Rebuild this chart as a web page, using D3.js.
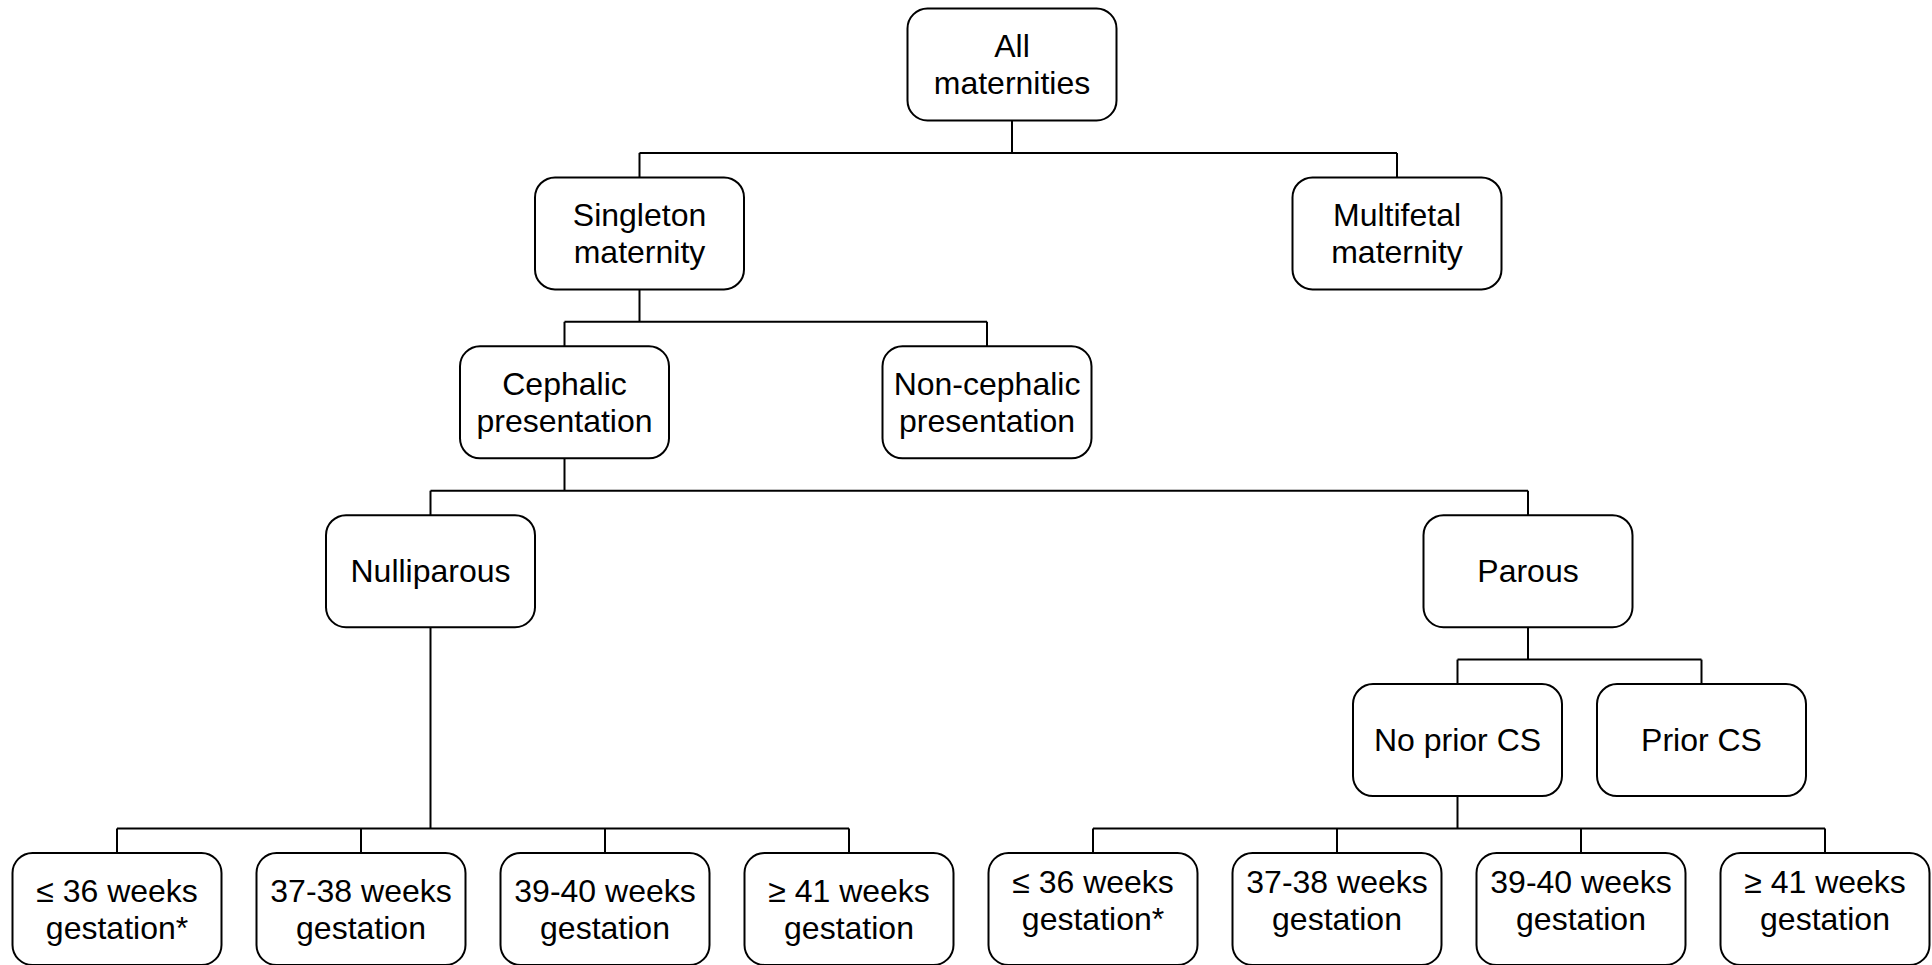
<!DOCTYPE html>
<html>
<head>
<meta charset="utf-8">
<script src="https://cdn.jsdelivr.net/npm/d3@7"></script>
<style>
  html, body { margin: 0; padding: 0; background: #fff; }
  svg { display: block; }
</style>
</head>
<body>
<svg id="chart" width="1932" height="965"></svg>
<script>
// ---- data ----
const nodeIds = ["all","singleton","multifetal","cephalic","noncephalic","nulli","parous","noprior","prior",
  "n36","n3738","n3940","n41","p36","p3738","p3940","p41"];
const nodeLabels = [
  ["All","maternities"],
  ["Singleton","maternity"],
  ["Multifetal","maternity"],
  ["Cephalic","presentation"],
  ["Non-cephalic","presentation"],
  ["Nulliparous"],
  ["Parous"],
  ["No prior CS"],
  ["Prior CS"],
  ["\u2264 36 weeks","gestation*"],
  ["37-38 weeks","gestation"],
  ["39-40 weeks","gestation"],
  ["\u2265 41 weeks","gestation"],
  ["\u2264 36 weeks","gestation*"],
  ["37-38 weeks","gestation"],
  ["39-40 weeks","gestation"],
  ["\u2265 41 weeks","gestation"]
];
const nodeParents = ["", "all","all","singleton","singleton","cephalic","cephalic","parous","parous",
  "nulli","nulli","nulli","nulli","noprior","noprior","noprior","noprior"];
const nodeLevels = [0,1,1,2,2,3,3,4,4,5,5,5,5,5,5,5,5];

// ---- layout (positions kept separate from data) ----
const layoutX = {
  all:1012, singleton:639.5, multifetal:1397, cephalic:564.5, noncephalic:987,
  nulli:430.5, parous:1528, noprior:1457.5, prior:1701.5,
  n36:117, n3738:361, n3940:605, n41:849, p36:1093, p3738:1337, p3940:1581, p41:1825
};
const textShift = { p36:-9, p3738:-9, p3940:-9, p41:-9 };

const boxW = 209, boxH = 112, rx = 20, gapAbove = 24.5;
const lineH = 37, fontSize = 32;

const nodes = nodeIds.map((id,i) => ({
  id, label: nodeLabels[i], parent: nodeParents[i], level: nodeLevels[i]
}));

const root = d3.stratify().id(d => d.id).parentId(d => d.parent || null)(nodes);

const x = d3.scaleLinear().domain([0,1932]).range([0,1932]);
const yTop = d3.scaleLinear().domain([0,5]).range([8.5, 853]);

const svg = d3.select("#chart");

// connectors
const linkG = svg.append("g").attr("fill","none").attr("stroke","#000").attr("stroke-width",2);
root.each(n => {
  if (!n.children) return;
  const px = x(layoutX[n.id]);
  const pBottom = yTop(n.data.level) + boxH;
  const childTop = yTop(n.children[0].data.level);
  const busY = childTop - gapAbove;
  linkG.append("line").attr("x1",px).attr("x2",px).attr("y1",pBottom).attr("y2",busY);
  const cxs = n.children.map(c => x(layoutX[c.id]));
  linkG.append("line").attr("x1",d3.min(cxs.concat(px))).attr("x2",d3.max(cxs.concat(px)))
    .attr("y1",busY).attr("y2",busY);
  n.children.forEach(c => {
    const cx = x(layoutX[c.id]);
    linkG.append("line").attr("x1",cx).attr("x2",cx).attr("y1",busY).attr("y2",yTop(c.data.level));
  });
});

// boxes
const nodeG = svg.append("g").selectAll("g").data(root.descendants()).join("g")
  .attr("transform", d => `translate(${x(layoutX[d.id])},${yTop(d.data.level)})`);

nodeG.append("rect")
  .attr("x", -boxW/2).attr("y", 0).attr("width", boxW).attr("height", boxH)
  .attr("rx", rx).attr("ry", rx)
  .attr("fill","#fff").attr("stroke","#000").attr("stroke-width",2);

nodeG.each(function(d){
  const lines = d.data.label;
  const g = d3.select(this);
  const cy = boxH/2 + (textShift[d.id] || 0);
  lines.forEach((t,i) => {
    g.append("text")
      .attr("x", 0)
      .attr("y", cy + (i - (lines.length-1)/2) * lineH)
      .attr("text-anchor","middle")
      .attr("dominant-baseline","central")
      .attr("font-family","'Liberation Sans', Arial, sans-serif")
      .attr("font-size", fontSize)
      .attr("fill","#000")
      .text(t);
  });
});
</script>
</body>
</html>
